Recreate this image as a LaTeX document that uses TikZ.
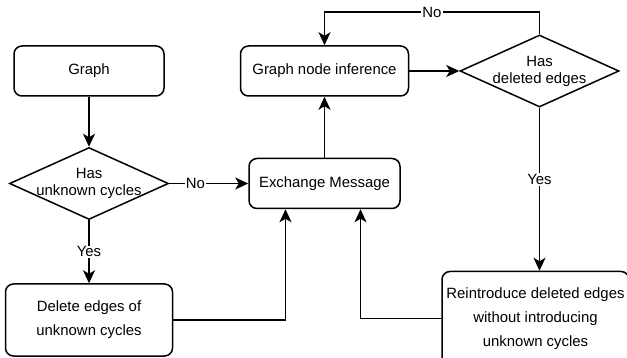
\documentclass[tikz,border=0pt]{standalone}
\usepackage{fontspec}
\setmainfont{Liberation Sans}
\usetikzlibrary{arrows.meta, positioning, shapes.geometric}

\begin{document}
\begin{tikzpicture}[
    x=1pt, y=-1pt,
    stepbox/.style={
        rectangle, rounded corners=8pt, draw=black, line width=1.5pt,
        fill=white, minimum height=50pt, align=center,
        font=\fontsize{14.9}{24}\selectfont
    },
    decision/.style={
        diamond, draw=black, line width=1.5pt, fill=white,
        minimum width=159pt, minimum height=72pt,
        inner xsep=-15pt, inner ysep=-10pt, aspect=2.2,
        align=center, font=\fontsize{14.9}{17}\selectfont
    },
    arr/.style={-{Stealth[length=13pt, width=12pt, inset=3.5pt]}, line width=1.5pt},
    answer/.style={fill=white, inner sep=1pt, font=\fontsize{14.9}{17}\selectfont}
]
\useasboundingbox (0,0) rectangle (627,358);

% Left column
\node[stepbox, minimum width=150pt] (graph) at (89,71) {Graph};
\node[decision, below=50pt of graph] (cycles) {Has\\unknown cycles};
\node[stepbox, minimum width=167pt, minimum height=72pt,
      below=63pt of cycles] (delete) {Delete edges of\\unknown cycles};

% Middle column
\node[stepbox, minimum width=151pt, right=79pt of cycles] (exchange) {Exchange Message};
\node[stepbox, minimum width=168pt, above=61pt of exchange] (infer) {Graph node inference};

% Right column
\node[decision, right=50pt of infer] (deleted) {Has\\deleted edges};
\node[stepbox, minimum width=187pt, minimum height=94pt,
      below=163pt of deleted, xshift=-4pt] (reintro) {Reintroduce deleted edges\\without introducing\\unknown cycles};

% Connectors
\draw[arr] (graph) -- (cycles);
\draw[arr] (cycles) -- node[answer, pos=0.33] {No} (exchange);
\draw[arr] (cycles) -- node[answer] {Yes} (delete);
\draw[arr] (delete) -| ([xshift=-39pt]exchange.south);
\draw[arr] (exchange) -- (infer);
\draw[arr] (infer) -- (deleted);
\draw[arr] (deleted.north) -- ++(0,-22) -| node[answer, pos=0.25] {No} (infer.north);
\draw[arr] (deleted) -- node[answer, pos=0.44] {Yes} (deleted |- reintro.north);
\draw[arr] (reintro) -| ([xshift=36pt]exchange.south);

\end{tikzpicture}
\end{document}
